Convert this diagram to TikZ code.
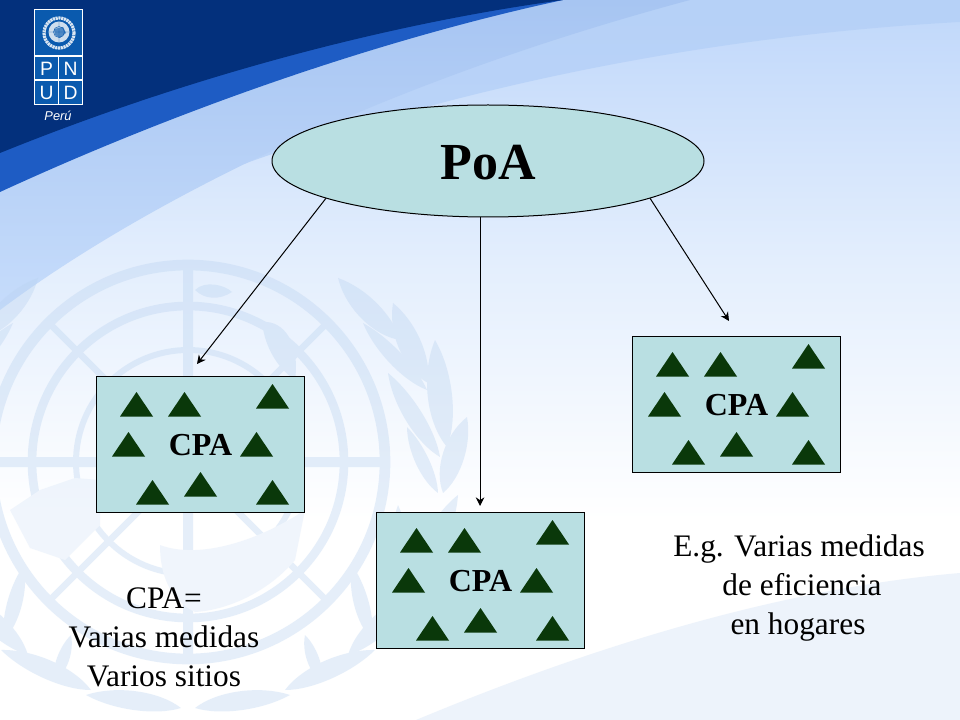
\documentclass[tikz,border=0pt]{standalone}
\usepackage{fontspec}
\setmainfont{Liberation Serif}
\newfontfamily\logofont{Liberation Sans}
\usetikzlibrary{arrows.meta,shapes.geometric}
\definecolor{navy}{HTML}{03307C}
\definecolor{bandblue}{HTML}{1E5CC4}
\definecolor{panel}{HTML}{B9DFE2}
\definecolor{tri}{HTML}{0A380A}
\definecolor{logoblue}{HTML}{0A5AAE}
\definecolor{markc}{HTML}{B9D2F0}
\definecolor{bgtop}{HTML}{BFD7FA}
\definecolor{bgmid}{HTML}{E3EEFD}
\definecolor{swoopa}{HTML}{A7C5F2}
\definecolor{swoopb}{HTML}{C6DCFB}
\definecolor{swoopc}{HTML}{B3CFF7}
\definecolor{lowpale}{HTML}{EDF3FB}
\tikzset{
  poabox/.style={ellipse,draw=black,line width=.75pt,fill=panel,minimum width=324pt,minimum height=84pt,inner sep=0pt,font=\fontsize{39}{39}\selectfont\bfseries},
  cpabox/.style={rectangle,draw=black,line width=.75pt,fill=panel,minimum width=156pt,minimum height=102pt,inner sep=0pt,font=\fontsize{24}{26}\selectfont\bfseries},
  link/.style={line width=.75pt,-{Stealth[length=6.5pt,width=6.5pt]}},
  note/.style={anchor=base,inner sep=0pt,font=\fontsize{23.5}{26}\selectfont},
  logoletter/.style={text=white,inner sep=0pt,font=\logofont\fontsize{14.5}{15}\selectfont},
  logoline/.style={draw=white,line width=1pt},
  triangles/.pic={
    \foreach \ax/\ay in {40/15.5,88/15.5,176/7.5,32/55.5,160/55.5,56/103.5,104/95.5,176/103.5}
      \fill[tri] (\ax,\ay) -- ++(16.5,24.5) -- ++(-33,0) -- cycle;
  }
}
\newcommand{\leafby}[5]{% x1 y1 x2 y2 halfwidth
  \pgfmathsetmacro{\leaflen}{veclen(#3-#1,#4-#2)}
  \pgfmathsetmacro{\leafrot}{-atan2(#4-#2,#3-#1)}
  \fill[markc,shift={(#1,#2)},rotate=\leafrot] (0,0) .. controls (\leaflen*.3,#5) and (\leaflen*.75,#5) .. (\leaflen,0) .. controls (\leaflen*.75,-#5*.8) and (\leaflen*.3,-#5*.8) .. (0,0);
}
\begin{document}
\begin{tikzpicture}[x=.75pt,y=-.75pt]
\useasboundingbox (0,0) rectangle (960,720);
\begin{scope}
\clip (0,0) rectangle (960,720);
% background
\fill[white] (0,0) rectangle (960,720);
\shade[top color=bgtop,bottom color=white,middle color=bgmid] (0,0) rectangle (960,520);
% upper right slightly darker swoop
\fill[swoopc,opacity=.75] (300,0) -- (960,0) -- (960,22) .. controls (720,35) and (430,85) .. (150,200) -- cycle;
% lighter blue swoop under the band
\shade[top color=swoopa,bottom color=swoopb] (0,100) -- (0,310) .. controls (60,265) and (280,110) .. (690,0) -- (300,0) -- cycle;
% lower right paler sweep
\fill[lowpale] (416,720) .. controls (560,660) and (760,590) .. (960,573) -- (960,720) -- cycle;
% watermark
\begin{scope}[transparency group,opacity=.36]
\foreach \r/\w in {197/8,156/6.5,112/4.5}
  \draw[markc,line width=\w pt] (188,462) circle (\r);
\fill[markc] (183,262) rectangle (193,662);
\fill[markc] (-10,457) rectangle (386,467);
\foreach \a in {45,135,225,315}
  \draw[markc,line width=5pt] (188,462) -- ++(\a:197);
% continents
\fill[markc!55!white] (10,510) -- (40,490) -- (75,478) -- (100,480) -- (100,525) -- (65,560) -- (30,548) -- cycle;
\fill[markc!55!white] (160,545) .. controls (200,560) and (260,540) .. (305,510) -- (295,560) .. controls (270,590) and (230,610) .. (195,612) .. controls (170,600) and (160,575) .. (160,545) -- cycle;
\fill[markc] (262,322) .. controls (285,320) and (300,345) .. (295,380) .. controls (280,370) and (265,350) .. (262,322) -- cycle;
\fill[markc] (195,290) .. controls (205,280) and (225,285) .. (232,292) .. controls (220,300) and (205,300) .. (195,290) -- cycle;
% wreath, both branches
\foreach \xa/\ya/\xb/\yb/\hw in {338/278/400/340/16,393/303/428/383/17,363/323/427/390/11,435/340/447/447/18,388/373/440/457/13,467/417/443/493/16,407/427/438/493/10,458/495/415/585/15,398/505/405/590/12,420/590/348/655/15,352/565/372/640/11,375/650/285/690/14,305/635/322/682/9,290/695/195/708/14}{
  \leafby{\xa}{\ya}{\xb}{\yb}{\hw}
  \pgfmathsetmacro{\mxa}{376-\xa}
  \pgfmathsetmacro{\mxb}{376-\xb}
  \pgfmathsetmacro{\mhw}{-\hw}
  \leafby{\mxa}{\ya}{\mxb}{\yb}{\mhw}
}
\end{scope}
% navy corner and band
\fill[bandblue] (0,0) -- (563,0) .. controls (400,35) and (200,100) .. (0,192) -- cycle;
\fill[navy] (0,0) -- (563,0) .. controls (400,22) and (200,72) .. (0,153) -- cycle;
% logo
\fill[logoblue] (34,9) rectangle (83,105);
\draw[logoline,line width=1.2pt] (34.5,9.5) rectangle (82.5,104.5);
\draw[logoline] (34.5,56) -- (82.5,56) (34.5,80) -- (82.5,80) (58.5,56) -- (58.5,104.5);
\node[logoletter] (lp) at (46.5,68.5) {P};
\node[logoletter] (ln) at (70.5,68.5) {N};
\node[logoletter] (lu) at (46.5,92.5) {U};
\node[logoletter] (ld) at (70.5,92.5) {D};
\node[text=white,inner sep=0pt,font=\logofont\itshape\fontsize{9.6}{11}\selectfont] (lperu) at (58,115.5) {Perú};
\draw[white,opacity=.85,line width=2.4pt,dash pattern=on 1.6pt off .5pt] (59,33) circle (15);
\fill[white,opacity=.8] (59,32) circle (10.5);
\draw[logoblue,line width=.35pt] (59,21.5) -- (59,42.5) (48.5,32) -- (69.5,32) (59,32) circle (5.5);
\fill[logoblue,opacity=.65] (54,29) -- (63,27) -- (66,33) -- (60,38) -- (55,35) -- cycle;
\end{scope}
% diagram
\node[poabox] (poa) at (488,161) {\raisebox{-14.25pt}[0pt][0pt]{PoA}};
\node[cpabox] (cpa1) at (200.5,444.5) {\raisebox{-8.6pt}[0pt][0pt]{CPA}};
\node[cpabox] (cpa2) at (480.5,580.5) {\raisebox{-8.6pt}[0pt][0pt]{CPA}};
\node[cpabox] (cpa3) at (736.5,404.5) {\raisebox{-8.6pt}[0pt][0pt]{CPA}};
\pic at (96.5,376.5) {triangles};
\pic at (376.5,512.5) {triangles};
\pic at (632.5,336.5) {triangles};
\coordinate (tipa) at (197,364);
\coordinate (tipb) at (480.5,506);
\coordinate (tipc) at (729,321);
\draw[link] (poa.193.4) -- (tipa);
\draw[link] (poa.262.4) -- (poa.262.4 |- tipb);
\draw[link] (poa.-13.8) -- (tipc);
% notes
\node[note] (n1) at (164,608) {CPA=};
\node[note] (n2) at (164,647) {Varias medidas};
\node[note] (n3) at (164,686) {Varios sitios};
\node[note] (e1) at (799,556) {E.g. Varias medidas};
\node[note] (e2) at (802,595) {de eficiencia};
\node[note] (e3) at (798,634) {en hogares};
\end{tikzpicture}
\end{document}
